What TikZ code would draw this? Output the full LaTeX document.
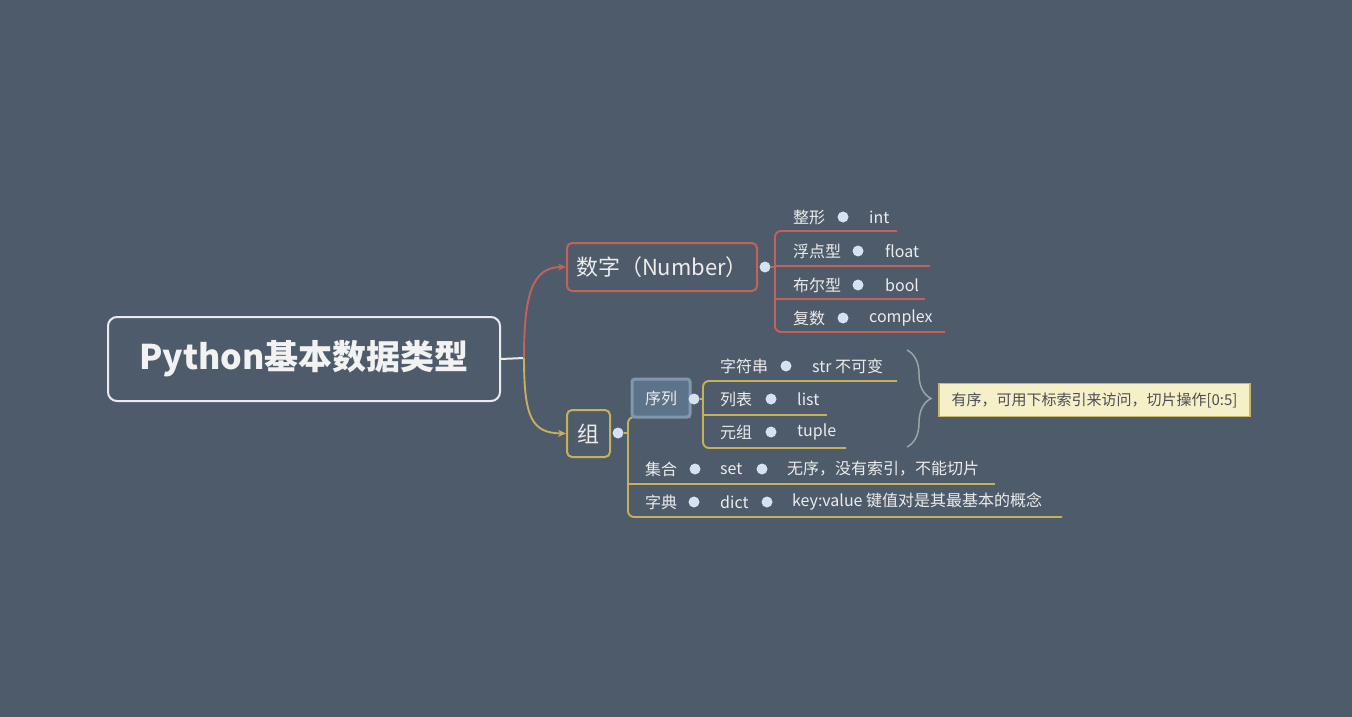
\documentclass[tikz,border=0pt]{standalone}
\usepackage{fontspec}
\newfontfamily\cjk{Noto Sans CJK SC}
\usetikzlibrary{decorations.pathreplacing,arrows.meta}
\definecolor{bg}{HTML}{4E5B6A}
\definecolor{redb}{HTML}{C2625A}
\definecolor{yelb}{HTML}{C6B05C}
\definecolor{dotc}{HTML}{D6E2F2}
\definecolor{txt}{HTML}{ECECEC}
\definecolor{notefill}{HTML}{F6F0C9}
\definecolor{noteline}{HTML}{CBB96B}
\definecolor{notetxt}{HTML}{4A4E54}
\definecolor{bracec}{HTML}{9EA3AA}
\definecolor{selfill}{HTML}{5D7389}
\definecolor{selline}{HTML}{8098AE}
\begin{document}
\begin{tikzpicture}[x=1pt,y=-1pt,
  lbl/.style={font=\cjk\fontsize{16}{16}\selectfont, text=txt, inner sep=0pt, anchor=west},
  dotn/.style={circle, fill=dotc, inner sep=0pt, minimum size=11pt},
  redln/.style={draw=redb, line width=1.9pt, rounded corners=6pt},
  yelln/.style={draw=yelb, line width=1.9pt, rounded corners=6pt},
  topic/.style={line width=2pt, rounded corners=5pt, text=txt, inner sep=0pt,
    font=\cjk\fontsize{22}{22}\selectfont},
]
\fill[bg] (0,0) rectangle (1352,717);
\useasboundingbox (0,0) rectangle (1352,717);

% central topic
\node[draw=white!92!black, line width=2pt, rounded corners=9pt, minimum width=392pt,
  minimum height=84pt, text=white!95!black, inner sep=0pt,
  font=\cjk\bfseries\fontsize{34}{34}\selectfont] (root) at (304,359) {Python基本数据类型};

% main branches
\node[topic, draw=redb, minimum width=190pt, minimum height=48pt] (num) at (662,267) {数字（Number）};
\node[topic, draw=yelb, minimum width=43pt, minimum height=47pt] (grp) at (588.5,433.5) {组};

\coordinate (fork) at (524,358);
\draw[white!92!black, line width=2pt] (root.east) -- (fork);
\draw[redb, line width=1.9pt, -{Stealth[length=8pt,width=7pt]}]
  (fork) .. controls (524,295) and (532,267) .. (num.west);
\draw[yelb, line width=1.9pt, -{Stealth[length=8pt,width=7pt]}]
  (fork) .. controls (524,418) and (532,433) .. (grp.west);

\node[dotn] (numdot) at (765,267) {};
\node[dotn] (grpdot) at (618,433) {};

% ---- number subtopics ----
\coordinate (ns) at (775,267);
\coordinate (ntop) at (775,231);
\coordinate (nbot) at (775,332);
\coordinate (n1e) at (897,231);
\coordinate (n2s) at (775,266);
\coordinate (n2e) at (930,266);
\coordinate (n3s) at (775,299);
\coordinate (n3e) at (925,299);
\coordinate (n4e) at (945,332);
\draw[redln] (numdot) -- (ns);
\draw[redln] (n1e) -- (ntop) -- (nbot) -- (n4e);
\draw[redln] (n2s) -- (n2e);
\draw[redln] (n3s) -- (n3e);

\node[lbl] (l1) at (793,217) {整形};
\node[dotn] (d1) at (843,217) {};
\node[lbl] (v1) at (869,217) {int};
\node[lbl] (l2) at (793,251) {浮点型};
\node[dotn] (d2) at (858,251) {};
\node[lbl] (v2) at (885,251) {float};
\node[lbl] (l3) at (793,285) {布尔型};
\node[dotn] (d3) at (858,285) {};
\node[lbl] (v3) at (885,285) {bool};
\node[lbl] (l4) at (793,318) {复数};
\node[dotn] (d4) at (843,318) {};
\node[lbl] (v4) at (869,318) {complex};

% ---- group subtopics ----
\coordinate (gs) at (628,433);
\coordinate (gtop) at (628,417);
\coordinate (gbot) at (628,517);
\coordinate (g0e) at (690,417);
\coordinate (g1s) at (628,484);
\coordinate (g1e) at (995,484);
\coordinate (g2e) at (1062,517);
\draw[yelln] (grpdot) -- (gs);
\draw[yelln] (g0e) -- (gtop) -- (gbot) -- (g2e);
\draw[yelln] (g1s) -- (g1e);

% sequence subtopic (selected)
\node[fill=selfill, draw=selline, line width=3pt, rounded corners=3pt, minimum width=58pt,
  minimum height=38pt, inner sep=0pt, text=txt, font=\cjk\fontsize{16}{16}\selectfont]
  (seq) at (661,398) {序列};
\node[dotn] (seqdot) at (694,399) {};
\coordinate (ss) at (703,399);
\coordinate (stop) at (703,381);
\coordinate (sbot) at (703,448);
\coordinate (s1e) at (897,381);
\coordinate (s2s) at (703,415);
\coordinate (s2e) at (827,415);
\coordinate (s3e) at (846,448);
\draw[yelln] (seqdot) -- (ss);
\draw[yelln] (s1e) -- (stop) -- (sbot) -- (s3e);
\draw[yelln] (s2s) -- (s2e);

\node[lbl] (q1) at (720,366) {字符串};
\node[dotn] (qd1) at (786,366) {};
\node[lbl] (qv1) at (812,366) {str 不可变};
\node[lbl] (q2) at (720,399) {列表};
\node[dotn] (qd2) at (771,399) {};
\node[lbl] (qv2) at (797,399) {list};
\node[lbl] (q3) at (720,432) {元组};
\node[dotn] (qd3) at (771,432) {};
\node[lbl] (qv3) at (797,432) {tuple};

\node[lbl] (k1) at (645,469) {集合};
\node[dotn] (kd1) at (695,469) {};
\node[lbl] (kv1) at (720,469) {set};
\node[dotn] (kd1b) at (762,469) {};
\node[lbl] (kn1) at (787,469) {无序，没有索引，不能切片};
\node[lbl] (k2) at (645,502) {字典};
\node[dotn] (kd2) at (694,502) {};
\node[lbl] (kv2) at (720,502) {dict};
\node[dotn] (kd2b) at (767,502) {};
\node[lbl] (kn2) at (792,502) {key:value 键值对是其最基本的概念};

% brace and note
\coordinate (br1) at (907,350);
\coordinate (br2) at (907,447);
\draw[bracec, line width=1.5pt, decorate, decoration={brace, amplitude=24pt, aspect=0.5}] (br1) -- (br2);
\node[fill=notefill, draw=noteline, line width=1.5pt, minimum width=311pt, minimum height=33pt,
  inner sep=0pt, text=notetxt, font=\cjk\fontsize{15}{15}\selectfont]
  (note) at (1094.5,400) {有序，可用下标索引来访问，切片操作[0:5]};
\end{tikzpicture}
\end{document}
